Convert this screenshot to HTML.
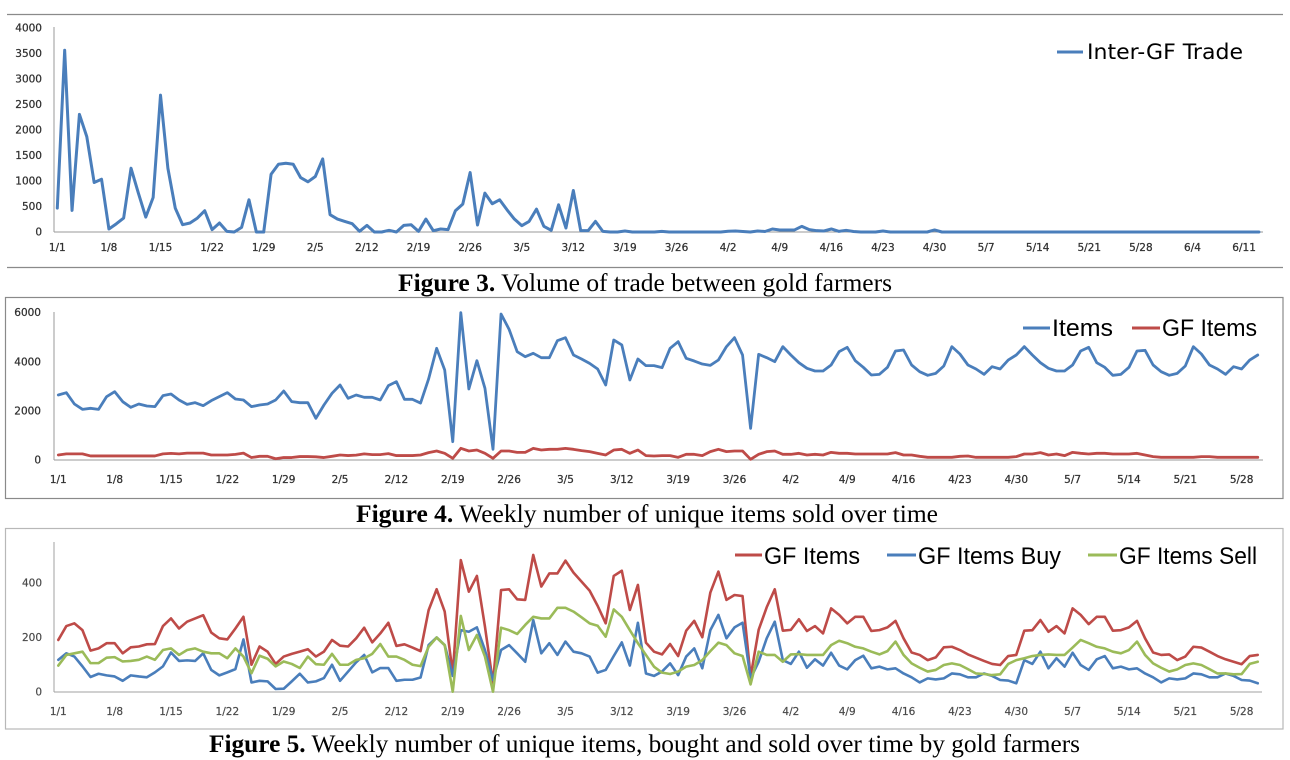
<!DOCTYPE html>
<html><head><meta charset="utf-8"><style>
html,body{margin:0;padding:0;background:#fff;}
svg{display:block;}
.t{font-family:"DejaVu Sans",Verdana,sans-serif;font-size:10.5px;fill:#303030;stroke:#303030;stroke-width:0.25px;}
.t5{font-family:"DejaVu Sans",Verdana,sans-serif;font-size:10.5px;fill:#4a4a4a;stroke:#4a4a4a;stroke-width:0.2px;}
.cap{font-family:"Liberation Serif","Times New Roman",serif;font-size:25px;fill:#000;}
.lg{font-family:"Liberation Sans",Arial,sans-serif;font-size:24px;fill:#000;}
.ln{fill:none;stroke-linejoin:round;stroke-linecap:round;}
</style></head><body>
<svg width="1290" height="760" viewBox="0 0 1290 760" xmlns="http://www.w3.org/2000/svg">
<rect width="1290" height="760" fill="#fff"/>

<!-- ============ FIGURE 3 ============ -->
<line x1="7" y1="14.5" x2="1283" y2="14.5" stroke="#8a8a8a" stroke-width="1.2"/>
<line x1="7" y1="267.5" x2="1283" y2="267.5" stroke="#8a8a8a" stroke-width="1.2"/>
<line x1="54" y1="27" x2="54" y2="232" stroke="#9a9a9a" stroke-width="1"/>
<line x1="54" y1="232" x2="1263" y2="232" stroke="#9a9a9a" stroke-width="1"/>
<g class="t" text-anchor="end">
<text x="42" y="235.5">0</text>
<text x="42" y="210">500</text>
<text x="42" y="184.5">1000</text>
<text x="42" y="159">1500</text>
<text x="42" y="133.5">2000</text>
<text x="42" y="108">2500</text>
<text x="42" y="82.5">3000</text>
<text x="42" y="57">3500</text>
<text x="42" y="31.5">4000</text>
</g>
<g class="t" text-anchor="middle">
<text x="57.3" y="251">1/1</text><text x="108.9" y="251">1/8</text><text x="160.5" y="251">1/15</text><text x="212.1" y="251">1/22</text><text x="263.7" y="251">1/29</text><text x="315.3" y="251">2/5</text><text x="366.9" y="251">2/12</text><text x="418.5" y="251">2/19</text><text x="470.1" y="251">2/26</text><text x="521.7" y="251">3/5</text><text x="573.3" y="251">3/12</text><text x="624.9" y="251">3/19</text><text x="676.5" y="251">3/26</text><text x="728.1" y="251">4/2</text><text x="779.7" y="251">4/9</text><text x="831.3" y="251">4/16</text><text x="882.9" y="251">4/23</text><text x="934.5" y="251">4/30</text><text x="986.1" y="251">5/7</text><text x="1037.7" y="251">5/14</text><text x="1089.3" y="251">5/21</text><text x="1140.9" y="251">5/28</text><text x="1192.5" y="251">6/4</text><text x="1244.1" y="251">6/11</text>
</g>
<g transform="matrix(7.372 0 0 -0.051 57.3 232)">
<polyline class="ln" vector-effect="non-scaling-stroke" stroke="#4a7ebb" stroke-width="3" points="0,469 1,3563 2,423 3,2306 4,1870 5,970 6,1035 7,59 8,160 9,273 10,1251 11,762 12,293 13,677 14,2684 15,1251 16,469 17,143 18,176 19,273 20,417 21,46 22,176 23,13 24,0 25,91 26,632 27,0 28,0 29,1133 30,1329 31,1348 32,1329 33,1068 34,984 35,1088 36,1433 37,339 38,254 39,208 40,163 41,13 42,130 43,0 44,0 45,33 46,0 47,130 48,143 49,13 50,254 51,26 52,59 53,46 54,417 55,547 56,1166 57,137 58,762 59,554 60,632 61,436 62,254 63,124 64,208 65,449 66,111 67,33 68,534 69,78 70,814 71,26 72,26 73,208 74,13 75,0 76,0 77,20 78,0 81,0 82,13 83,0 90,0 91,15 92,20 93,10 94,0 95,20 96,10 97,59 98,40 99,40 100,40 101,111 102,46 103,26 104,20 105,59 106,13 107,33 108,10 109,0 111,0 112,20 113,0 118,0 119,40 120,0 163,0"/>
</g>
<line x1="1057" y1="52" x2="1083" y2="52" stroke="#4a7ebb" stroke-width="3"/>
<text x="1087" y="59" style="font-family:'DejaVu Sans',Verdana,sans-serif;font-size:21px;fill:#000" textLength="156" lengthAdjust="spacingAndGlyphs">Inter-GF Trade</text>

<text class="cap" x="398" y="291" textLength="494" lengthAdjust="spacingAndGlyphs"><tspan font-weight="bold">Figure 3.</tspan> Volume of trade between gold farmers</text>

<!-- ============ FIGURE 4 ============ -->
<rect x="5.5" y="297.5" width="1277.5" height="201" fill="none" stroke="#8a8a8a" stroke-width="1.2"/>
<line x1="54" y1="312" x2="54" y2="460" stroke="#9a9a9a" stroke-width="1"/>
<line x1="54" y1="460" x2="1263" y2="460" stroke="#9a9a9a" stroke-width="1"/>
<g class="t" text-anchor="end">
<text x="41" y="463.5">0</text>
<text x="41" y="414.4">2000</text>
<text x="41" y="365.3">4000</text>
<text x="41" y="316.2">6000</text>
</g>
<g class="t" text-anchor="middle">
<text x="58.3" y="483">1/1</text><text x="114.65" y="483">1/8</text><text x="171" y="483">1/15</text><text x="227.35" y="483">1/22</text><text x="283.7" y="483">1/29</text><text x="340.05" y="483">2/5</text><text x="396.4" y="483">2/12</text><text x="452.75" y="483">2/19</text><text x="509.1" y="483">2/26</text><text x="565.45" y="483">3/5</text><text x="621.8" y="483">3/12</text><text x="678.15" y="483">3/19</text><text x="734.5" y="483">3/26</text><text x="790.85" y="483">4/2</text><text x="847.2" y="483">4/9</text><text x="903.55" y="483">4/16</text><text x="959.9" y="483">4/23</text><text x="1016.25" y="483">4/30</text><text x="1072.6" y="483">5/7</text><text x="1128.95" y="483">5/14</text><text x="1185.3" y="483">5/21</text><text x="1241.65" y="483">5/28</text>
</g>
<g transform="matrix(8.05 0 0 -0.02455 58.3 460)">
<polyline class="ln" vector-effect="non-scaling-stroke" stroke="#4a7ebb" stroke-width="2.8" points="0,2648 1,2743 2,2281 3,2064 4,2105 5,2064 6,2580 7,2783 8,2376 9,2146 10,2281 11,2200 12,2173 13,2620 14,2689 15,2444 16,2267 17,2335 18,2214 19,2417 20,2580 21,2743 22,2485 23,2444 24,2173 25,2240 26,2281 27,2444 28,2810 29,2376 30,2335 31,2335 32,1697 33,2240 34,2716 35,3055 36,2512 37,2648 38,2553 39,2553 40,2444 41,3028 42,3191 43,2471 44,2471 45,2320 46,3300 47,4549 48,3666 49,747 50,6000 51,2892 52,4046 53,2920 54,435 55,5947 56,5322 57,4413 58,4209 59,4345 60,4168 61,4168 62,4861 63,4983 64,4277 65,4114 66,3937 67,3707 68,3055 69,4888 70,4685 71,3259 72,4114 73,3843 74,3843 75,3761 76,4549 77,4820 78,4141 79,4032 80,3910 81,3856 82,4073 83,4617 84,4983 85,4277 86,1290 87,4304 88,4168 89,4005 90,4617 91,4277 92,3964 93,3734 94,3625 95,3625 96,3870 97,4413 98,4590 99,4046 100,3775 101,3462 102,3489 103,3775 104,4440 105,4481 106,3870 107,3598 108,3449 109,3530 110,3829 111,4617 112,4318 113,3870 114,3707 115,3489 116,3802 117,3707 118,4073 119,4277 120,4617 121,4277 122,3964 123,3734 124,3625 125,3625 126,3870 127,4440 128,4590 129,3964 130,3775 131,3449 132,3489 133,3775 134,4440 135,4467 136,3870 137,3598 138,3449 139,3530 140,3829 141,4617 142,4318 143,3870 144,3707 145,3489 146,3802 147,3707 148,4073 149,4277"/>
<polyline class="ln" vector-effect="non-scaling-stroke" stroke="#be4b48" stroke-width="2.8" points="0,204 1,250 2,250 3,250 4,165 5,165 6,165 7,165 8,165 9,165 10,165 11,165 12,165 13,250 14,270 15,250 16,280 17,280 18,280 19,204 20,204 21,204 22,230 23,280 24,100 25,150 26,150 27,50 28,100 29,100 30,140 31,140 32,130 33,100 34,150 35,204 36,180 37,200 38,250 39,220 40,220 41,260 42,180 43,180 44,180 45,204 46,300 47,367 48,272 49,68 50,475 51,367 52,407 53,272 54,68 55,367 56,367 57,312 58,312 59,475 60,407 61,435 62,435 63,475 64,435 65,380 66,340 67,272 68,204 69,407 70,435 71,272 72,407 73,177 74,163 75,177 76,177 77,109 78,231 79,231 80,177 81,340 82,435 83,340 84,367 85,367 86,27 87,231 88,340 89,367 90,231 91,231 92,272 93,204 94,231 95,204 96,312 97,272 98,272 99,245 100,245 101,245 102,245 103,245 104,300 105,204 106,204 107,150 108,109 109,109 110,109 111,109 112,150 113,163 114,109 115,109 116,109 117,109 118,109 119,136 120,245 121,245 122,300 123,204 124,245 125,177 126,312 127,272 128,245 129,272 130,272 131,245 132,245 133,245 134,272 135,204 136,136 137,109 138,109 139,109 140,109 141,109 142,136 143,136 144,109 145,109 146,109 147,109 148,109 149,109"/>
</g>
<line x1="1023" y1="328" x2="1050" y2="328" stroke="#4a7ebb" stroke-width="3"/>
<text class="lg" x="1052" y="336" textLength="61" lengthAdjust="spacingAndGlyphs">Items</text>
<line x1="1132" y1="328" x2="1160" y2="328" stroke="#be4b48" stroke-width="3"/>
<text class="lg" x="1162" y="336" textLength="95" lengthAdjust="spacingAndGlyphs">GF Items</text>

<text class="cap" x="356" y="522" textLength="582" lengthAdjust="spacingAndGlyphs"><tspan font-weight="bold">Figure 4.</tspan> Weekly number of unique items sold over time</text>

<!-- ============ FIGURE 5 ============ -->
<rect x="5.5" y="528.5" width="1277.5" height="200.5" fill="none" stroke="#b8b8b8" stroke-width="1.2"/>
<line x1="54" y1="542" x2="54" y2="692" stroke="#a0a0a0" stroke-width="1"/>
<line x1="54" y1="692" x2="1262" y2="692" stroke="#a0a0a0" stroke-width="1"/>
<g class="t5" text-anchor="end">
<text x="42" y="695.5">0</text>
<text x="42" y="641">200</text>
<text x="42" y="586.5">400</text>
</g>
<g class="t5" text-anchor="middle">
<text x="58.3" y="715">1/1</text><text x="114.65" y="715">1/8</text><text x="171" y="715">1/15</text><text x="227.35" y="715">1/22</text><text x="283.7" y="715">1/29</text><text x="340.05" y="715">2/5</text><text x="396.4" y="715">2/12</text><text x="452.75" y="715">2/19</text><text x="509.1" y="715">2/26</text><text x="565.45" y="715">3/5</text><text x="621.8" y="715">3/12</text><text x="678.15" y="715">3/19</text><text x="734.5" y="715">3/26</text><text x="790.85" y="715">4/2</text><text x="847.2" y="715">4/9</text><text x="903.55" y="715">4/16</text><text x="959.9" y="715">4/23</text><text x="1016.25" y="715">4/30</text><text x="1072.6" y="715">5/7</text><text x="1128.95" y="715">5/14</text><text x="1185.3" y="715">5/21</text><text x="1241.65" y="715">5/28</text>
</g>
<g transform="matrix(8.05 0 0 -0.2725 58.3 692)">
<polyline class="ln" vector-effect="non-scaling-stroke" stroke="#be4b48" stroke-width="2.6" points="0,191 1,242 2,252 3,227 4,152 5,160 6,179 7,179 8,142 9,164 10,167 11,175 12,176 13,242 14,270 15,233 16,258 17,270 18,282 19,218 20,197 21,193 22,233 23,276 24,100 25,167 26,148 27,103 28,130 29,140 30,148 31,157 32,130 33,148 34,191 35,170 36,167 37,197 38,236 39,182 40,215 41,254 42,169 43,175 44,163 45,150 46,300 47,377 48,295 49,68 50,484 51,368 52,426 53,240 54,32 55,374 56,377 57,340 58,338 59,503 60,387 61,435 62,435 63,482 64,438 65,405 66,372 67,316 68,252 69,426 70,445 71,301 72,393 73,181 74,148 75,138 76,176 77,132 78,225 79,261 80,201 81,365 82,442 83,338 84,356 85,352 86,56 87,228 88,311 89,377 90,225 91,228 92,267 93,224 94,242 95,215 96,307 97,283 98,252 99,276 100,276 101,224 102,227 103,237 104,261 105,197 106,145 107,136 108,117 109,127 110,164 111,166 112,154 113,138 114,126 115,114 116,103 117,99 118,132 119,136 120,225 121,227 122,264 123,221 124,242 125,215 126,307 127,283 128,249 129,276 130,276 131,225 132,227 133,237 134,261 135,197 136,145 137,136 138,138 139,117 140,130 141,166 142,163 143,148 144,132 145,120 146,111 147,102 148,132 149,136"/>
<polyline class="ln" vector-effect="non-scaling-stroke" stroke="#4a7ebb" stroke-width="2.6" points="0,118 1,142 2,130 3,94 4,55 5,67 6,61 7,57 8,41 9,61 10,57 11,54 12,72 13,94 14,145 15,114 16,116 17,114 18,142 19,81 20,61 21,72 22,84 23,193 24,35 25,41 26,39 27,11 28,12 29,39 30,67 31,35 32,39 33,51 34,100 35,41 36,75 37,109 38,136 39,72 40,88 41,88 42,41 43,45 44,45 45,53 46,172 47,200 48,172 49,59 50,227 51,221 52,237 53,154 54,44 55,154 56,172 57,142 58,111 59,264 60,142 61,179 62,136 63,185 64,148 65,142 66,130 67,71 68,81 69,132 70,182 71,97 72,254 73,68 74,59 75,75 76,105 77,62 78,130 79,160 80,87 81,227 82,283 83,197 84,237 85,254 86,50 87,111 88,197 89,258 90,117 91,103 92,148 93,89 94,120 95,97 96,144 97,97 98,83 99,117 100,133 101,87 102,93 103,83 104,87 105,68 106,54 107,35 108,50 109,46 110,50 111,68 112,65 113,54 114,54 115,68 116,59 117,44 118,42 119,32 120,117 121,103 122,148 123,87 124,124 125,93 126,144 127,99 128,81 129,120 130,132 131,87 132,93 133,83 134,87 135,68 136,54 137,35 138,50 139,46 140,50 141,68 142,65 143,54 144,54 145,68 146,59 147,44 148,42 149,32"/>
<polyline class="ln" vector-effect="non-scaling-stroke" stroke="#9bbb59" stroke-width="2.6" points="0,97 1,136 2,142 3,148 4,106 5,106 6,126 7,128 8,112 9,114 10,118 11,130 12,118 13,154 14,160 15,136 16,154 17,160 18,148 19,142 20,142 21,124 22,160 23,130 24,69 25,133 26,122 27,94 28,112 29,103 30,88 31,130 32,102 33,100 34,140 35,100 36,100 37,118 38,124 39,140 40,176 41,130 42,130 43,118 44,100 45,95 46,166 47,200 48,172 49,1 50,279 51,154 52,209 53,130 54,1 55,236 56,227 57,213 58,246 59,276 60,270 61,270 62,309 63,309 64,295 65,274 66,252 67,243 68,203 69,303 70,276 71,227 72,179 73,136 74,93 75,71 76,66 77,75 78,93 79,99 80,117 81,150 82,181 83,172 84,142 85,132 86,28 87,148 88,136 89,136 90,111 91,138 92,139 93,136 94,136 95,136 96,172 97,188 98,179 99,166 100,160 101,148 102,138 103,150 104,185 105,136 106,105 107,89 108,75 109,81 110,99 111,105 112,99 113,84 114,68 115,66 116,62 117,65 118,103 119,117 120,124 121,132 122,136 123,138 124,136 125,136 126,163 127,191 128,179 129,166 130,160 131,148 132,142 133,154 134,185 135,136 136,105 137,89 138,75 139,83 140,99 141,105 142,99 143,84 144,68 145,68 146,65 147,66 148,103 149,111"/>
</g>
<line x1="735" y1="555" x2="762" y2="555" stroke="#be4b48" stroke-width="3"/>
<text class="lg" x="764" y="564" textLength="96" lengthAdjust="spacingAndGlyphs">GF Items</text>
<line x1="887" y1="555" x2="916" y2="555" stroke="#4a7ebb" stroke-width="3"/>
<text class="lg" x="918" y="564" textLength="143" lengthAdjust="spacingAndGlyphs">GF Items Buy</text>
<line x1="1088" y1="555" x2="1117" y2="555" stroke="#9bbb59" stroke-width="3"/>
<text class="lg" x="1119" y="564" textLength="138" lengthAdjust="spacingAndGlyphs">GF Items Sell</text>

<text class="cap" x="209" y="752" textLength="871" lengthAdjust="spacingAndGlyphs"><tspan font-weight="bold">Figure 5.</tspan> Weekly number of unique items, bought and sold over time by gold farmers</text>
</svg>
</body></html>
